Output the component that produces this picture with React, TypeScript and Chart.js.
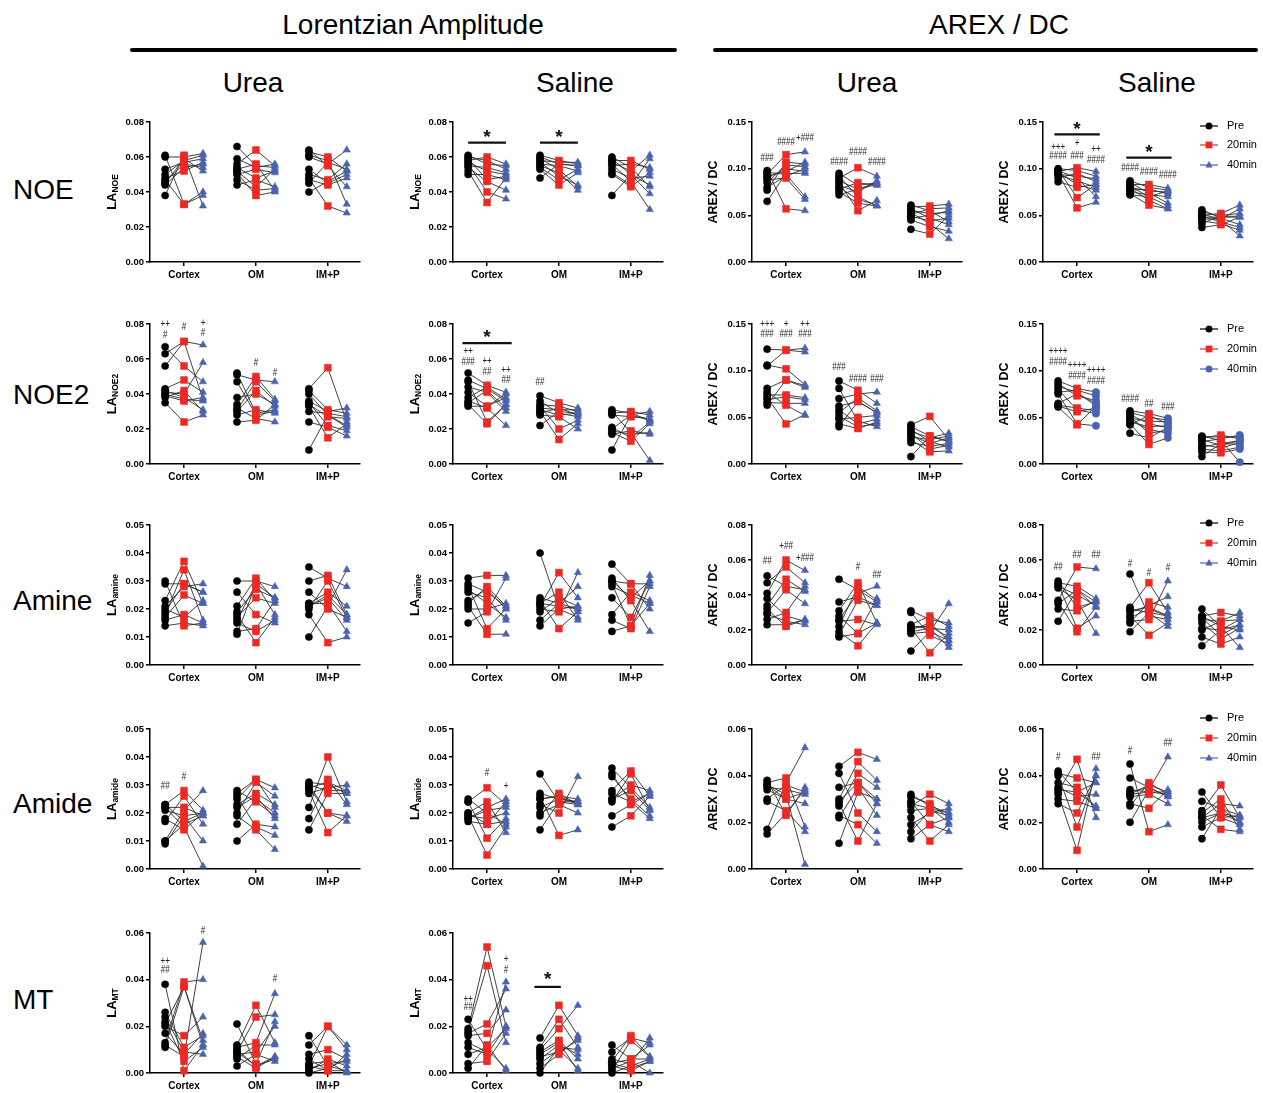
import React, { useEffect, useRef } from 'react';
import { Chart, registerables } from 'chart.js';

Chart.register(...registerables);

const FONT = "'Liberation Sans', Arial, Helvetica, sans-serif";

// x categories and timepoints
const groups = ['Cortex', 'OM', 'IM+P'];
const timepoints = ['Pre', '20min', '40min'];
const groupCenters = [0, 3.8, 7.6];

// each row: [Pre, 20min, 40min] for one subject; one block per region (Cortex, OM, IM+P)
const laNoeUrea = [
  [[0.061, 0.033, 0.040], [0.060, 0.060, 0.062], [0.053, 0.057, 0.059], [0.050, 0.058, 0.061], [0.048, 0.052, 0.057],
   [0.047, 0.033, 0.038], [0.046, 0.056, 0.054], [0.045, 0.059, 0.052], [0.044, 0.054, 0.056], [0.038, 0.061, 0.032]],
  [[0.066, 0.055, 0.054], [0.059, 0.054, 0.056], [0.056, 0.064, 0.055], [0.054, 0.048, 0.052], [0.053, 0.056, 0.041],
   [0.052, 0.043, 0.053], [0.051, 0.038, 0.040], [0.050, 0.053, 0.051], [0.047, 0.041, 0.042], [0.044, 0.047, 0.043]],
  [[0.064, 0.055, 0.043], [0.063, 0.060, 0.052], [0.061, 0.058, 0.033], [0.060, 0.056, 0.064], [0.053, 0.045, 0.050],
   [0.050, 0.047, 0.056], [0.048, 0.032, 0.028], [0.047, 0.044, 0.048], [0.045, 0.057, 0.053], [0.040, 0.046, 0.052]],
];
const laNoeSaline = [
  [[0.061, 0.056, 0.055], [0.060, 0.058, 0.053], [0.059, 0.047, 0.049], [0.058, 0.060, 0.056], [0.057, 0.052, 0.050],
   [0.056, 0.040, 0.036], [0.055, 0.054, 0.051], [0.054, 0.046, 0.041], [0.052, 0.034, 0.048], [0.050, 0.050, 0.047]],
  [[0.061, 0.058, 0.056], [0.060, 0.056, 0.055], [0.059, 0.053, 0.043], [0.058, 0.057, 0.057], [0.057, 0.049, 0.044],
   [0.056, 0.055, 0.052], [0.055, 0.051, 0.041], [0.054, 0.047, 0.053], [0.053, 0.044, 0.051], [0.048, 0.056, 0.055]],
  [[0.060, 0.054, 0.043], [0.059, 0.050, 0.039], [0.058, 0.058, 0.053], [0.057, 0.052, 0.061], [0.056, 0.046, 0.030],
   [0.055, 0.056, 0.054], [0.053, 0.048, 0.049], [0.051, 0.044, 0.059], [0.050, 0.043, 0.051], [0.038, 0.050, 0.044]],
];
const arexNoeUrea = [
  [[0.098, 0.057, 0.055], [0.096, 0.094, 0.070], [0.094, 0.115, 0.118], [0.092, 0.097, 0.107], [0.090, 0.100, 0.097],
   [0.088, 0.090, 0.067], [0.085, 0.104, 0.102], [0.080, 0.092, 0.100], [0.077, 0.107, 0.105], [0.065, 0.095, 0.095]],
  [[0.095, 0.082, 0.085], [0.092, 0.070, 0.060], [0.090, 0.101, 0.092], [0.087, 0.078, 0.083], [0.085, 0.055, 0.066],
   [0.082, 0.075, 0.087], [0.080, 0.067, 0.061], [0.078, 0.085, 0.082], [0.075, 0.063, 0.060], [0.072, 0.078, 0.085]],
  [[0.061, 0.055, 0.043], [0.059, 0.060, 0.062], [0.057, 0.047, 0.040], [0.055, 0.052, 0.053], [0.053, 0.041, 0.025],
   [0.051, 0.057, 0.058], [0.049, 0.044, 0.047], [0.047, 0.050, 0.055], [0.045, 0.038, 0.033], [0.035, 0.030, 0.050]],
];
const arexNoeSaline = [
  [[0.100, 0.098, 0.092], [0.099, 0.069, 0.083], [0.098, 0.090, 0.070], [0.097, 0.101, 0.097], [0.096, 0.083, 0.077],
   [0.095, 0.058, 0.064], [0.094, 0.092, 0.089], [0.093, 0.087, 0.080], [0.090, 0.095, 0.086], [0.086, 0.080, 0.083]],
  [[0.087, 0.080, 0.077], [0.085, 0.074, 0.063], [0.083, 0.083, 0.079], [0.081, 0.070, 0.060], [0.080, 0.076, 0.075],
   [0.079, 0.066, 0.057], [0.077, 0.078, 0.073], [0.075, 0.072, 0.070], [0.073, 0.061, 0.057], [0.072, 0.070, 0.076]],
  [[0.056, 0.047, 0.040], [0.054, 0.049, 0.049], [0.052, 0.045, 0.028], [0.050, 0.052, 0.061], [0.049, 0.043, 0.037],
   [0.048, 0.048, 0.048], [0.046, 0.046, 0.057], [0.044, 0.041, 0.034], [0.041, 0.050, 0.052], [0.037, 0.040, 0.048]],
];
const laNoe2Urea = [
  [[0.067, 0.056, 0.047], [0.063, 0.070, 0.068], [0.056, 0.070, 0.037], [0.043, 0.048, 0.041], [0.042, 0.038, 0.031],
   [0.041, 0.040, 0.058], [0.040, 0.037, 0.036], [0.039, 0.036, 0.038], [0.038, 0.042, 0.030], [0.035, 0.024, 0.028]],
  [[0.052, 0.029, 0.031], [0.051, 0.048, 0.047], [0.047, 0.028, 0.030], [0.038, 0.040, 0.034], [0.034, 0.050, 0.037],
   [0.032, 0.026, 0.024], [0.031, 0.047, 0.036], [0.030, 0.042, 0.033], [0.028, 0.031, 0.029], [0.024, 0.025, 0.034]],
  [[0.043, 0.055, 0.024], [0.042, 0.031, 0.029], [0.040, 0.028, 0.022], [0.036, 0.030, 0.032], [0.035, 0.022, 0.019],
   [0.034, 0.027, 0.026], [0.033, 0.015, 0.023], [0.030, 0.029, 0.027], [0.024, 0.021, 0.016], [0.008, 0.028, 0.021]],
];
const laNoe2Saline = [
  [[0.052, 0.045, 0.041], [0.048, 0.043, 0.036], [0.047, 0.024, 0.034], [0.044, 0.041, 0.030], [0.041, 0.033, 0.038],
   [0.038, 0.044, 0.037], [0.036, 0.032, 0.022], [0.035, 0.042, 0.032], [0.034, 0.023, 0.034], [0.033, 0.033, 0.040]],
  [[0.039, 0.035, 0.032], [0.036, 0.029, 0.027], [0.034, 0.033, 0.030], [0.033, 0.020, 0.025], [0.032, 0.031, 0.031],
   [0.031, 0.028, 0.029], [0.030, 0.014, 0.023], [0.029, 0.032, 0.028], [0.028, 0.027, 0.020], [0.022, 0.030, 0.029]],
  [[0.031, 0.029, 0.025], [0.030, 0.018, 0.002], [0.029, 0.030, 0.028], [0.028, 0.027, 0.026], [0.021, 0.015, 0.024],
   [0.020, 0.028, 0.030], [0.019, 0.017, 0.018], [0.018, 0.013, 0.023], [0.017, 0.019, 0.017], [0.008, 0.028, 0.025]],
];
const arexNoe2Urea = [
  [[0.123, 0.122, 0.124], [0.106, 0.102, 0.085], [0.105, 0.122, 0.120], [0.081, 0.090, 0.082], [0.077, 0.063, 0.052],
   [0.074, 0.074, 0.071], [0.071, 0.043, 0.053], [0.069, 0.072, 0.069], [0.066, 0.065, 0.065], [0.063, 0.090, 0.084]],
  [[0.089, 0.079, 0.065], [0.081, 0.046, 0.040], [0.070, 0.075, 0.077], [0.062, 0.067, 0.055], [0.058, 0.043, 0.048],
   [0.055, 0.071, 0.057], [0.051, 0.040, 0.043], [0.048, 0.050, 0.052], [0.043, 0.038, 0.045], [0.040, 0.067, 0.055]],
  [[0.042, 0.051, 0.026], [0.040, 0.030, 0.024], [0.037, 0.024, 0.018], [0.035, 0.028, 0.033], [0.033, 0.016, 0.020],
   [0.031, 0.022, 0.028], [0.029, 0.026, 0.030], [0.026, 0.013, 0.014], [0.023, 0.019, 0.022], [0.008, 0.030, 0.024]],
];
const arexNoe2Saline = [
  [[0.089, 0.081, 0.077], [0.086, 0.073, 0.068], [0.083, 0.077, 0.062], [0.080, 0.058, 0.054], [0.077, 0.079, 0.073],
   [0.075, 0.043, 0.041], [0.065, 0.075, 0.065], [0.063, 0.060, 0.057], [0.062, 0.056, 0.060], [0.061, 0.042, 0.062]],
  [[0.057, 0.054, 0.049], [0.055, 0.050, 0.047], [0.053, 0.043, 0.039], [0.051, 0.033, 0.036], [0.049, 0.046, 0.045],
   [0.047, 0.037, 0.033], [0.045, 0.040, 0.041], [0.043, 0.021, 0.028], [0.042, 0.052, 0.043], [0.033, 0.028, 0.039]],
  [[0.030, 0.025, 0.002], [0.029, 0.029, 0.029], [0.028, 0.031, 0.027], [0.026, 0.020, 0.025], [0.024, 0.027, 0.031],
   [0.021, 0.017, 0.023], [0.018, 0.022, 0.021], [0.016, 0.014, 0.018], [0.013, 0.012, 0.016], [0.008, 0.022, 0.025]],
];
const laAmineUrea = [
  [[0.030, 0.014, 0.015], [0.029, 0.029, 0.026], [0.023, 0.037, 0.022], [0.021, 0.028, 0.029], [0.020, 0.017, 0.023],
   [0.018, 0.034, 0.016], [0.017, 0.025, 0.022], [0.016, 0.018, 0.015], [0.014, 0.015, 0.014], [0.019, 0.029, 0.026]],
  [[0.030, 0.030, 0.028], [0.026, 0.018, 0.015], [0.021, 0.031, 0.023], [0.019, 0.027, 0.024], [0.018, 0.008, 0.017],
   [0.017, 0.024, 0.022], [0.016, 0.029, 0.018], [0.015, 0.012, 0.016], [0.012, 0.013, 0.023], [0.011, 0.029, 0.024]],
  [[0.035, 0.031, 0.028], [0.030, 0.032, 0.018], [0.026, 0.020, 0.017], [0.022, 0.026, 0.021], [0.021, 0.024, 0.016],
   [0.022, 0.022, 0.012], [0.018, 0.008, 0.010], [0.010, 0.021, 0.034], [0.020, 0.030, 0.017], [0.021, 0.025, 0.018]],
];
const laAmineSaline = [
  [[0.031, 0.032, 0.032], [0.029, 0.026, 0.021], [0.028, 0.013, 0.020], [0.027, 0.022, 0.017], [0.026, 0.024, 0.016],
   [0.022, 0.028, 0.021], [0.021, 0.011, 0.011], [0.020, 0.020, 0.022], [0.015, 0.019, 0.031], [0.023, 0.027, 0.020]],
  [[0.040, 0.020, 0.021], [0.024, 0.022, 0.020], [0.023, 0.013, 0.019], [0.022, 0.026, 0.016], [0.021, 0.033, 0.024],
   [0.020, 0.019, 0.033], [0.019, 0.024, 0.021], [0.016, 0.022, 0.028], [0.014, 0.020, 0.017], [0.022, 0.021, 0.020]],
  [[0.036, 0.029, 0.020], [0.031, 0.023, 0.012], [0.030, 0.029, 0.029], [0.029, 0.014, 0.032], [0.028, 0.025, 0.022],
   [0.024, 0.017, 0.030], [0.018, 0.026, 0.023], [0.016, 0.013, 0.028], [0.012, 0.014, 0.022], [0.030, 0.024, 0.030]],
];
const arexAmineUrea = [
  [[0.051, 0.045, 0.043], [0.047, 0.056, 0.047], [0.041, 0.060, 0.054], [0.038, 0.028, 0.025], [0.034, 0.049, 0.042],
   [0.032, 0.022, 0.026], [0.030, 0.043, 0.035], [0.029, 0.025, 0.023], [0.026, 0.030, 0.045], [0.023, 0.023, 0.026]],
  [[0.049, 0.043, 0.036], [0.036, 0.039, 0.034], [0.031, 0.047, 0.024], [0.028, 0.018, 0.038], [0.026, 0.041, 0.045],
   [0.025, 0.026, 0.023], [0.022, 0.045, 0.037], [0.019, 0.011, 0.024], [0.017, 0.037, 0.034], [0.016, 0.018, 0.024]],
  [[0.031, 0.026, 0.024], [0.030, 0.017, 0.012], [0.023, 0.028, 0.022], [0.022, 0.022, 0.016], [0.021, 0.007, 0.018],
   [0.020, 0.024, 0.014], [0.019, 0.021, 0.010], [0.018, 0.019, 0.014], [0.008, 0.019, 0.035], [0.022, 0.021, 0.020]],
];
const arexAmineSaline = [
  [[0.048, 0.033, 0.036], [0.047, 0.045, 0.038], [0.046, 0.021, 0.028], [0.045, 0.040, 0.034], [0.044, 0.037, 0.018],
   [0.037, 0.056, 0.055], [0.036, 0.019, 0.033], [0.035, 0.043, 0.036], [0.032, 0.031, 0.037], [0.025, 0.043, 0.033]],
  [[0.052, 0.028, 0.026], [0.033, 0.047, 0.030], [0.032, 0.030, 0.028], [0.030, 0.034, 0.039], [0.028, 0.017, 0.024],
   [0.027, 0.032, 0.028], [0.025, 0.026, 0.048], [0.024, 0.036, 0.033], [0.019, 0.030, 0.022], [0.031, 0.033, 0.028]],
  [[0.032, 0.022, 0.010], [0.028, 0.030, 0.028], [0.027, 0.017, 0.023], [0.026, 0.025, 0.030], [0.024, 0.015, 0.021],
   [0.021, 0.020, 0.026], [0.016, 0.012, 0.016], [0.011, 0.020, 0.023], [0.020, 0.025, 0.026], [0.028, 0.022, 0.020]],
];
const laAmideUrea = [
  [[0.023, 0.017, 0.020], [0.023, 0.028, 0.021], [0.022, 0.015, 0.001], [0.022, 0.022, 0.019], [0.021, 0.019, 0.010],
   [0.018, 0.014, 0.020], [0.017, 0.026, 0.016], [0.010, 0.021, 0.028], [0.009, 0.019, 0.020], [0.010, 0.016, 0.019]],
  [[0.028, 0.024, 0.019], [0.027, 0.032, 0.029], [0.026, 0.015, 0.012], [0.023, 0.027, 0.023], [0.020, 0.031, 0.026],
   [0.019, 0.014, 0.007], [0.016, 0.025, 0.020], [0.010, 0.016, 0.015], [0.022, 0.026, 0.018], [0.025, 0.032, 0.022]],
  [[0.031, 0.030, 0.027], [0.030, 0.020, 0.017], [0.029, 0.031, 0.028], [0.028, 0.013, 0.019], [0.027, 0.029, 0.030],
   [0.022, 0.040, 0.024], [0.018, 0.032, 0.023], [0.014, 0.027, 0.027], [0.029, 0.020, 0.019], [0.030, 0.028, 0.028]],
];
const laAmideSaline = [
  [[0.025, 0.020, 0.016], [0.024, 0.029, 0.023], [0.024, 0.011, 0.018], [0.020, 0.024, 0.013], [0.019, 0.005, 0.015],
   [0.018, 0.022, 0.025], [0.017, 0.016, 0.024], [0.019, 0.018, 0.020], [0.020, 0.016, 0.017], [0.018, 0.021, 0.022]],
  [[0.034, 0.024, 0.023], [0.027, 0.025, 0.024], [0.026, 0.012, 0.014], [0.025, 0.026, 0.025], [0.023, 0.020, 0.033],
   [0.020, 0.023, 0.020], [0.019, 0.027, 0.023], [0.014, 0.024, 0.024], [0.025, 0.026, 0.023], [0.022, 0.025, 0.024]],
  [[0.036, 0.029, 0.022], [0.033, 0.025, 0.019], [0.028, 0.035, 0.026], [0.027, 0.024, 0.018], [0.025, 0.030, 0.028],
   [0.024, 0.034, 0.021], [0.019, 0.023, 0.027], [0.015, 0.019, 0.026], [0.025, 0.028, 0.021], [0.034, 0.024, 0.027]],
];
const arexAmideUrea = [
  [[0.038, 0.023, 0.035], [0.037, 0.039, 0.018], [0.036, 0.032, 0.002], [0.035, 0.034, 0.032], [0.034, 0.030, 0.028],
   [0.030, 0.036, 0.033], [0.029, 0.025, 0.016], [0.017, 0.037, 0.052], [0.015, 0.024, 0.034], [0.036, 0.030, 0.033]],
  [[0.044, 0.050, 0.047], [0.041, 0.024, 0.016], [0.035, 0.037, 0.030], [0.030, 0.046, 0.038], [0.028, 0.012, 0.028],
   [0.027, 0.041, 0.035], [0.023, 0.019, 0.011], [0.022, 0.035, 0.023], [0.011, 0.033, 0.030], [0.029, 0.037, 0.028]],
  [[0.032, 0.027, 0.024], [0.031, 0.028, 0.022], [0.029, 0.019, 0.016], [0.027, 0.032, 0.028], [0.025, 0.026, 0.020],
   [0.022, 0.012, 0.019], [0.019, 0.024, 0.026], [0.016, 0.025, 0.023], [0.013, 0.019, 0.022], [0.028, 0.026, 0.024]],
];
const arexAmideSaline = [
  [[0.042, 0.033, 0.027], [0.041, 0.039, 0.037], [0.040, 0.018, 0.040], [0.037, 0.035, 0.026], [0.035, 0.031, 0.032],
   [0.033, 0.047, 0.022], [0.032, 0.008, 0.043], [0.030, 0.029, 0.026], [0.028, 0.024, 0.040], [0.034, 0.033, 0.037]],
  [[0.045, 0.016, 0.019], [0.039, 0.035, 0.031], [0.034, 0.033, 0.032], [0.032, 0.036, 0.033], [0.031, 0.032, 0.028],
   [0.028, 0.026, 0.034], [0.027, 0.037, 0.032], [0.020, 0.034, 0.048], [0.033, 0.035, 0.031], [0.032, 0.033, 0.033]],
  [[0.033, 0.022, 0.019], [0.029, 0.026, 0.023], [0.025, 0.036, 0.022], [0.024, 0.030, 0.017], [0.023, 0.017, 0.016],
   [0.022, 0.028, 0.027], [0.020, 0.024, 0.020], [0.018, 0.022, 0.023], [0.013, 0.026, 0.020], [0.022, 0.024, 0.022]],
];
const laMtUrea = [
  [[0.038, 0.001, 0.012], [0.026, 0.011, 0.016], [0.024, 0.009, 0.008], [0.022, 0.005, 0.011], [0.021, 0.037, 0.014],
   [0.020, 0.016, 0.024], [0.017, 0.008, 0.017], [0.013, 0.039, 0.040], [0.012, 0.007, 0.056], [0.011, 0.037, 0.012]],
  [[0.021, 0.004, 0.022], [0.012, 0.029, 0.013], [0.011, 0.013, 0.034], [0.010, 0.003, 0.006], [0.009, 0.024, 0.025],
   [0.008, 0.009, 0.020], [0.007, 0.002, 0.007], [0.006, 0.012, 0.012], [0.003, 0.008, 0.005], [0.009, 0.003, 0.007]],
  [[0.016, 0.003, 0.001], [0.012, 0.020, 0.012], [0.008, 0.010, 0.006], [0.006, 0.001, 0.008], [0.004, 0.005, 0.000],
   [0.003, 0.020, 0.010], [0.002, 0.004, 0.005], [0.001, 0.006, 0.003], [0.000, 0.002, 0.006], [0.003, 0.001, 0.001]],
];
const laMtSaline = [
  [[0.023, 0.010, 0.002], [0.019, 0.054, 0.020], [0.018, 0.046, 0.013], [0.017, 0.021, 0.036], [0.016, 0.017, 0.027],
   [0.013, 0.009, 0.039], [0.008, 0.011, 0.019], [0.004, 0.005, 0.017], [0.002, 0.012, 0.001], [0.011, 0.008, 0.020]],
  [[0.015, 0.029, 0.016], [0.011, 0.023, 0.011], [0.010, 0.019, 0.029], [0.008, 0.013, 0.001], [0.007, 0.009, 0.014],
   [0.006, 0.012, 0.008], [0.004, 0.010, 0.002], [0.002, 0.008, 0.015], [0.000, 0.011, 0.010], [0.009, 0.014, 0.006]],
  [[0.012, 0.006, 0.006], [0.009, 0.015, 0.013], [0.006, 0.004, 0.015], [0.005, 0.016, 0.007], [0.004, 0.002, 0.005],
   [0.002, 0.005, 0.000], [0.001, 0.014, 0.007], [0.000, 0.003, 0.006], [0.004, 0.006, 0.012], [0.003, 0.001, 0.005]],
];

// significance labels: [region, timepoint, y, text]
type Mark = [number, number, number, string];
// comparison bars: [region, x from, x to (offsets from region centre), bar y, star y]
type Bar = [number, number, number, number, number];

const laNoeSalineBars: Bar[] = [[0, -1, 1, 0.0682, 0.0735], [1, -1, 1, 0.0682, 0.0735]];
const arexNoeUreaMarks: Mark[] = [
  [0, 0, 0.1107, '###'], [0, 1, 0.128, '####'], [0, 2, 0.133, '+###'],
  [1, 0, 0.1064, '####'], [1, 1, 0.118, '####'], [1, 2, 0.1064, '####'],
];
const arexNoeSalineMarks: Mark[] = [
  [0, 0, 0.1225, '+++'], [0, 0, 0.1136, '####'], [0, 1, 0.127, '+'], [0, 1, 0.1136, '###'],
  [0, 2, 0.1207, '++'], [0, 2, 0.109, '####'],
  [1, 0, 0.100, '####'], [1, 1, 0.0964, '####'], [1, 2, 0.0932, '####'],
];
const arexNoeSalineBars: Bar[] = [[0, -1.2, 1.2, 0.1368, 0.1465], [1, -1.2, 1.2, 0.1118, 0.1215]];
const laNoe2UreaMarks: Mark[] = [
  [0, 0, 0.0796, '++'], [0, 0, 0.0733, '#'], [0, 1, 0.078, '#'], [0, 2, 0.0806, '+'], [0, 2, 0.075, '#'],
  [1, 1, 0.0577, '#'], [1, 2, 0.052, '#'],
];
const laNoe2SalineMarks: Mark[] = [
  [0, 0, 0.0642, '++'], [0, 0, 0.0581, '###'], [0, 1, 0.0585, '++'], [0, 1, 0.0524, '##'],
  [0, 2, 0.0537, '++'], [0, 2, 0.0476, '##'], [1, 0, 0.0467, '##'],
];
const laNoe2SalineBars: Bar[] = [[0, -1.3, 1.3, 0.0691, 0.0742]];
const arexNoe2UreaMarks: Mark[] = [
  [0, 0, 0.1496, '+++'], [0, 0, 0.1385, '###'], [0, 1, 0.1496, '+'], [0, 1, 0.1385, '###'],
  [0, 2, 0.1496, '++'], [0, 2, 0.1385, '###'],
  [1, 0, 0.1036, '###'], [1, 1, 0.091, '####'], [1, 2, 0.091, '###'],
];
const arexNoe2SalineMarks: Mark[] = [
  [0, 0, 0.1205, '++++'], [0, 0, 0.1086, '####'], [0, 1, 0.1054, '++++'], [0, 1, 0.0935, '####'],
  [0, 2, 0.1, '++++'], [0, 2, 0.0888, '####'],
  [1, 0, 0.0694, '####'], [1, 1, 0.0637, '##'], [1, 2, 0.0604, '###'],
];
const arexAmineUreaMarks: Mark[] = [
  [0, 0, 0.0595, '##'], [0, 1, 0.0677, '+##'], [0, 2, 0.0611, '+###'], [1, 1, 0.0559, '#'], [1, 2, 0.0512, '##'],
];
const arexAmineSalineMarks: Mark[] = [
  [0, 0, 0.056, '##'], [0, 1, 0.063, '##'], [0, 2, 0.063, '##'], [1, 0, 0.0578, '#'], [1, 1, 0.0527, '#'], [1, 2, 0.0555, '#'],
];
const laAmideUreaMarks: Mark[] = [[0, 0, 0.0295, '##'], [0, 1, 0.0327, '#']];
const laAmideSalineMarks: Mark[] = [[0, 1, 0.0343, '#'], [0, 2, 0.0295, '+']];
const arexAmideSalineMarks: Mark[] = [[0, 0, 0.0481, '#'], [0, 2, 0.0481, '##'], [1, 0, 0.0504, '#'], [1, 2, 0.054, '##']];
const laMtUreaMarks: Mark[] = [[0, 0, 0.0479, '++'], [0, 0, 0.044, '##'], [0, 2, 0.0607, '#'], [1, 2, 0.040, '#']];
const laMtSalineMarks: Mark[] = [[0, 0, 0.0316, '++'], [0, 0, 0.028, '##'], [0, 2, 0.0486, '+'], [0, 2, 0.044, '#']];
const laMtSalineBars: Bar[] = [[1, -1.3, 0.1, 0.0369, 0.0418]];

const colors = ['#000000', '#ec2a25', '#4a63ae'];
const LINE = 'rgba(45,45,45,0.9)';

// layout of the grid of panels
const colLeft = [150, 453, 752, 1043];
const rowTop = [122, 324, 525, 729, 933];
const PLOT_W = 210;
const PLOT_H = 140;
const AXIS_W = 55;
const PAD_TOP = 22;
const PAD_RIGHT = 10;
const XAXIS_H = 24;

type Spec = {
  data: number[][][];
  yMax: number;
  yStep: number;
  title: string[];
  col: number;
  row: number;
  marks?: Mark[];
  bars?: Bar[];
  legend?: number[];
  circle40?: boolean;
};

const LA = (sub: string) => ['LA', sub];
const AREX = ['AREX / DC'];

const panels: Spec[] = [
  { data: laNoeUrea, yMax: 0.08, yStep: 0.02, title: LA('NOE'), col: 0, row: 0 },
  { data: laNoeSaline, yMax: 0.08, yStep: 0.02, title: LA('NOE'), col: 1, row: 0, bars: laNoeSalineBars },
  { data: arexNoeUrea, yMax: 0.15, yStep: 0.05, title: AREX, col: 2, row: 0, marks: arexNoeUreaMarks },
  { data: arexNoeSaline, yMax: 0.15, yStep: 0.05, title: AREX, col: 3, row: 0, marks: arexNoeSalineMarks, bars: arexNoeSalineBars, legend: [4, 23, 43] },
  { data: laNoe2Urea, yMax: 0.08, yStep: 0.02, title: LA('NOE2'), col: 0, row: 1, marks: laNoe2UreaMarks },
  { data: laNoe2Saline, yMax: 0.08, yStep: 0.02, title: LA('NOE2'), col: 1, row: 1, marks: laNoe2SalineMarks, bars: laNoe2SalineBars },
  { data: arexNoe2Urea, yMax: 0.15, yStep: 0.05, title: AREX, col: 2, row: 1, marks: arexNoe2UreaMarks },
  { data: arexNoe2Saline, yMax: 0.15, yStep: 0.05, title: AREX, col: 3, row: 1, marks: arexNoe2SalineMarks, legend: [5, 25, 45], circle40: true },
  { data: laAmineUrea, yMax: 0.05, yStep: 0.01, title: LA('amine'), col: 0, row: 2 },
  { data: laAmineSaline, yMax: 0.05, yStep: 0.01, title: LA('amine'), col: 1, row: 2 },
  { data: arexAmineUrea, yMax: 0.08, yStep: 0.02, title: AREX, col: 2, row: 2, marks: arexAmineUreaMarks },
  { data: arexAmineSaline, yMax: 0.08, yStep: 0.02, title: AREX, col: 3, row: 2, marks: arexAmineSalineMarks, legend: [-2, 18, 38] },
  { data: laAmideUrea, yMax: 0.05, yStep: 0.01, title: LA('amide'), col: 0, row: 3, marks: laAmideUreaMarks },
  { data: laAmideSaline, yMax: 0.05, yStep: 0.01, title: LA('amide'), col: 1, row: 3, marks: laAmideSalineMarks },
  { data: arexAmideUrea, yMax: 0.06, yStep: 0.02, title: AREX, col: 2, row: 3 },
  { data: arexAmideSaline, yMax: 0.06, yStep: 0.02, title: AREX, col: 3, row: 3, marks: arexAmideSalineMarks, legend: [-11, 9, 29] },
  { data: laMtUrea, yMax: 0.06, yStep: 0.02, title: LA('MT'), col: 0, row: 4, marks: laMtUreaMarks },
  { data: laMtSaline, yMax: 0.06, yStep: 0.02, title: LA('MT'), col: 1, row: 4, marks: laMtSalineMarks, bars: laMtSalineBars },
];

function drawMarker(ctx: CanvasRenderingContext2D, style: string, x: number, y: number, color: string) {
  ctx.save();
  ctx.fillStyle = color;
  ctx.beginPath();
  if (style === 'circle') {
    ctx.arc(x, y, 3.5, 0, Math.PI * 2);
  } else if (style === 'rect') {
    ctx.rect(x - 3.4, y - 3.4, 6.8, 6.8);
  } else {
    ctx.moveTo(x, y - 4);
    ctx.lineTo(x + 3.6, y + 2.6);
    ctx.lineTo(x - 3.6, y + 2.6);
    ctx.closePath();
  }
  ctx.fill();
  ctx.restore();
}

function makeOverlay(spec: Spec) {
  return {
    id: 'panelOverlay',
    afterDraw(chart: any) {
      const { ctx, chartArea } = chart;
      const xs = chart.scales.x;
      const ys = chart.scales.y;
      ctx.save();
      // axis title, rotated
      const cx = chartArea.left - 38;
      const cy = (chartArea.top + chartArea.bottom) / 2;
      ctx.translate(cx, cy);
      ctx.rotate(-Math.PI / 2);
      ctx.fillStyle = '#000';
      ctx.textBaseline = 'middle';
      ctx.textAlign = 'left';
      if (spec.title.length === 2) {
        ctx.font = `bold 13px ${FONT}`;
        const w1 = ctx.measureText(spec.title[0]).width;
        ctx.font = `bold 8.5px ${FONT}`;
        const w2 = ctx.measureText(spec.title[1]).width;
        const start = -(w1 + w2) / 2;
        ctx.font = `bold 13px ${FONT}`;
        ctx.fillText(spec.title[0], start, 0);
        ctx.font = `bold 8.5px ${FONT}`;
        ctx.fillText(spec.title[1], start + w1, 4);
      } else {
        ctx.font = `bold 12.5px ${FONT}`;
        ctx.textAlign = 'center';
        ctx.fillText(spec.title[0], 0, 0);
      }
      ctx.restore();

      ctx.save();
      ctx.fillStyle = '#222';
      ctx.textAlign = 'center';
      ctx.textBaseline = 'middle';
      ctx.font = `10px ${FONT}`;
      // significance symbols, slightly condensed so neighbouring labels stay apart
      (spec.marks || []).forEach(([g, t, y, text]) => {
        ctx.save();
        ctx.translate(xs.getPixelForValue(groupCenters[g] + t - 1), ys.getPixelForValue(y));
        ctx.scale(0.8, 1);
        ctx.fillText(text, 0, 0);
        ctx.restore();
      });
      (spec.bars || []).forEach(([g, a, b, y, sy]) => {
        const py = ys.getPixelForValue(y);
        const x1 = xs.getPixelForValue(groupCenters[g] + a);
        const x2 = xs.getPixelForValue(groupCenters[g] + b);
        ctx.strokeStyle = '#111';
        ctx.lineWidth = 2.2;
        ctx.beginPath();
        ctx.moveTo(x1, py);
        ctx.lineTo(x2, py);
        ctx.stroke();
        ctx.fillStyle = '#111';
        ctx.font = `bold 19px ${FONT}`;
        ctx.fillText('*', (x1 + x2) / 2, ys.getPixelForValue(sy) + 4);
      });
      ctx.restore();

      if (spec.legend) {
        ctx.save();
        const mx = chartArea.right - 44;
        const styles = ['circle', 'rect', spec.circle40 ? 'circle' : 'triangle'];
        spec.legend.forEach((dy, i) => {
          const py = chartArea.top + dy;
          ctx.strokeStyle = colors[i];
          ctx.lineWidth = 1.2;
          ctx.beginPath();
          ctx.moveTo(mx - 9, py);
          ctx.lineTo(mx + 9, py);
          ctx.stroke();
          drawMarker(ctx, styles[i], mx, py, colors[i]);
          ctx.fillStyle = '#000';
          ctx.font = `11px ${FONT}`;
          ctx.textAlign = 'left';
          ctx.textBaseline = 'middle';
          ctx.fillText(timepoints[i], mx + 18, py);
        });
        ctx.restore();
      }
    },
  };
}

function buildConfig(spec: Spec): any {
  const datasets: any[] = [];
  spec.data.forEach((rows, g) => {
    rows.forEach((r) => {
      datasets.push({
        data: r.map((v, t) => ({ x: groupCenters[g] + t - 1, y: v })),
        showLine: true,
        borderColor: LINE,
        borderWidth: 1,
        pointRadius: 0,
        order: 10,
        clip: false,
      });
    });
  });
  const styles = ['circle', 'rect', spec.circle40 ? 'circle' : 'triangle'];
  const radii = [3.6, 4.9, spec.circle40 ? 3.7 : 4.2];
  timepoints.forEach((name, t) => {
    datasets.push({
      label: name,
      data: spec.data.flatMap((rows, g) => rows.map((r) => ({ x: groupCenters[g] + t - 1, y: r[t] }))),
      showLine: false,
      pointStyle: styles[t],
      pointRadius: radii[t],
      pointBackgroundColor: colors[t],
      pointBorderColor: colors[t],
      pointBorderWidth: 0.5,
      order: 3 - t,
      clip: false,
    });
  });

  const yFont = { family: FONT, size: 9.5, weight: 'bold' as const };
  const xFont = { family: FONT, size: 10, weight: 'bold' as const };
  const grid = { display: true, drawOnChartArea: false, drawTicks: true, tickLength: 4, color: '#000', lineWidth: 1.5 };
  const border = { display: true, color: '#000', width: 1.5 };

  return {
    type: 'scatter',
    data: { datasets },
    options: {
      responsive: false,
      animation: false,
      events: [],
      layout: { padding: { left: 0, top: PAD_TOP, right: PAD_RIGHT, bottom: 0 } },
      plugins: { legend: { display: false }, tooltip: { enabled: false } },
      scales: {
        x: {
          type: 'linear',
          min: -1.8,
          max: 9.3,
          afterBuildTicks: (s: any) => {
            s.ticks = groupCenters.map((v) => ({ value: v }));
          },
          afterFit: (s: any) => {
            s.height = XAXIS_H;
          },
          ticks: {
            callback: (v: number) => groups[groupCenters.indexOf(v)] ?? '',
            font: xFont,
            color: '#000',
            padding: 3,
            autoSkip: false,
            maxRotation: 0,
          },
          grid,
          border,
        },
        y: {
          type: 'linear',
          min: 0,
          max: spec.yMax,
          afterFit: (s: any) => {
            s.width = AXIS_W;
          },
          ticks: {
            stepSize: spec.yStep,
            callback: (v: number) => Number(v).toFixed(2),
            font: yFont,
            color: '#000',
            padding: 2,
          },
          grid,
          border,
        },
      },
    },
    plugins: [makeOverlay(spec)],
  };
}

function Panel({ spec }: { spec: Spec }) {
  const ref = useRef<HTMLCanvasElement>(null);
  const w = AXIS_W + PLOT_W + PAD_RIGHT;
  const h = PAD_TOP + PLOT_H + XAXIS_H;
  useEffect(() => {
    if (!ref.current) return;
    const chart = new Chart(ref.current, buildConfig(spec));
    return () => chart.destroy();
  }, [spec]);
  return (
    <canvas
      ref={ref}
      width={w}
      height={h}
      style={{
        position: 'absolute',
        left: colLeft[spec.col] - AXIS_W,
        top: rowTop[spec.row] - PAD_TOP,
        width: w,
        height: h,
      }}
    />
  );
}

const textStyle = (x: number, y: number, align: 'center' | 'left'): React.CSSProperties => ({
  position: 'absolute',
  left: x,
  top: y,
  transform: align === 'center' ? 'translate(-50%, -50%)' : 'translate(0, -50%)',
  fontFamily: FONT,
  fontSize: 28,
  lineHeight: 1,
  whiteSpace: 'nowrap',
  color: '#000',
});

const sectionTitles = [
  { text: 'Lorentzian Amplitude', x: 413, y1: 130, y2: 677 },
  { text: 'AREX / DC', x: 999, y1: 713, y2: 1258 },
];
const columnTitles = [
  { text: 'Urea', x: 253 },
  { text: 'Saline', x: 575 },
  { text: 'Urea', x: 867 },
  { text: 'Saline', x: 1157 },
];
const rowTitles = [
  { text: 'NOE', y: 190 },
  { text: 'NOE2', y: 395 },
  { text: 'Amine', y: 601 },
  { text: 'Amide', y: 804 },
  { text: 'MT', y: 1000 },
];

export default function App() {
  return (
    <div style={{ position: 'absolute', left: 0, top: 0, width: 1263, height: 1093, background: '#fff', overflow: 'hidden' }}>
      {sectionTitles.map((s) => (
        <React.Fragment key={s.text}>
          <div style={textStyle(s.x, 25, 'center')}>{s.text}</div>
          <div
            style={{
              position: 'absolute',
              left: s.y1,
              top: 48,
              width: s.y2 - s.y1,
              height: 4,
              background: '#000',
              borderRadius: 2,
            }}
          />
        </React.Fragment>
      ))}
      {columnTitles.map((c, i) => (
        <div key={i} style={textStyle(c.x, 83, 'center')}>{c.text}</div>
      ))}
      {rowTitles.map((r) => (
        <div key={r.text} style={textStyle(13, r.y, 'left')}>{r.text}</div>
      ))}
      {panels.map((p, i) => (
        <Panel key={i} spec={p} />
      ))}
    </div>
  );
}
